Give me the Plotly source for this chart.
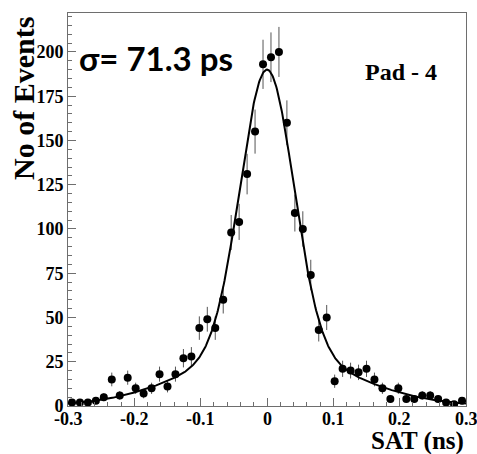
import numpy as np
import plotly.graph_objects as go

# Histogram of SAT values: 50 bins of width 0.012 ns over [-0.3, 0.3]
bin_lo = -0.3
bin_width = 0.012
counts = [2, 2, 2, 3, 5, 15, 6, 16, 10, 7,
          10, 18, 11, 18, 27, 28, 44, 49, 44, 60,
          98, 104, 131, 155, 193, 197, 200, 160, 109, 100,
          74, 43, 50, 14, 21, 20, 19, 21, 15, 10,
          4, 10, 4, 4, 6, 6, 4, 2, 1, 3]

# Fit: narrow core Gaussian plus broad Gaussian tails
core_amp, core_mean, core_sigma = 159.4, 0.0, 0.040
tail_amp, tail_mean, tail_sigma = 30.6, 0.0, 0.120

x_ticks = [-0.3, -0.2, -0.1, 0, 0.1, 0.2, 0.3]
x_tick_text = ["-0.3", "-0.2", "-0.1", "0", "0.1", "0.2", "0.3"]
y_ticks = [0, 25, 50, 75, 100, 125, 150, 175, 200]

centers = bin_lo + bin_width * (np.arange(len(counts)) + 0.5)
errors = np.sqrt(counts)

xf = np.linspace(-0.3, 0.3, 601)
yf = (core_amp * np.exp(-0.5 * ((xf - core_mean) / core_sigma) ** 2)
      + tail_amp * np.exp(-0.5 * ((xf - tail_mean) / tail_sigma) ** 2))

serif = "Liberation Serif"
frame = "#6e6e6e"

fig = go.Figure()
fig.add_trace(go.Scatter(
    x=centers, y=counts, mode="markers",
    marker=dict(color="black", size=8),
    error_y=dict(type="data", array=errors, visible=True,
                 color="#555555", thickness=1, width=0),
    showlegend=False,
))
fig.add_trace(go.Scatter(
    x=xf, y=yf, mode="lines",
    line=dict(color="black", width=2),
    showlegend=False,
))

tick_font = dict(family=serif, size=18, color="black", weight="bold")

# x tick labels placed as annotations so the last one is not dropped at the edge
x_label_annots = [
    dict(text=t, x=v, xref="x", y=-0.034, yref="paper",
         xanchor="center", yanchor="middle", showarrow=False, font=tick_font)
    for v, t in zip(x_ticks, x_tick_text)
]

fig.update_layout(
    width=477, height=454,
    margin=dict(l=68, r=11, t=13, b=48),
    paper_bgcolor="white", plot_bgcolor="white",
    showlegend=False,
    xaxis=dict(
        range=[-0.3, 0.3], tickvals=x_ticks, showticklabels=False,
        ticks="inside", ticklen=8, tickcolor=frame, tickwidth=1,
        minor=dict(dtick=0.02, ticks="inside", ticklen=4, tickcolor=frame),
        showline=True, linecolor=frame, linewidth=1, mirror=True,
        showgrid=False, zeroline=False, automargin=False,
    ),
    yaxis=dict(
        range=[0, 222], tickvals=y_ticks,
        ticks="inside", ticklen=8, tickcolor=frame, tickwidth=1,
        minor=dict(dtick=5, ticks="inside", ticklen=4, tickcolor=frame),
        showline=True, linecolor=frame, linewidth=1, mirror=True,
        showgrid=False, zeroline=False, automargin=False,
        ticklabeloverflow="allow",
        tickfont=tick_font,
    ),
    annotations=x_label_annots + [
        dict(text="<b>SAT (ns)</b>", xref="paper", yref="paper",
             x=1.0, y=-0.088, xanchor="right", yanchor="middle",
             showarrow=False, font=dict(family=serif, size=25, color="black")),
        dict(text="<b>No of Events</b>", xref="paper", yref="paper",
             x=-0.112, y=0.995, xanchor="center", yanchor="top", textangle=-90,
             showarrow=False, font=dict(family=serif, size=30, color="black")),
        dict(text="<b>σ= 71.3 ps</b>", xref="paper", yref="paper",
             x=0.0226, y=0.8855, xanchor="left", yanchor="middle",
             showarrow=False, font=dict(family="Lato", size=33, color="black")),
        dict(text="<b>Pad - 4</b>", xref="paper", yref="paper",
             x=0.741, y=0.85, xanchor="left", yanchor="middle",
             showarrow=False, font=dict(family=serif, size=24, color="black")),
    ],
)

fig.write_html("out.html")
